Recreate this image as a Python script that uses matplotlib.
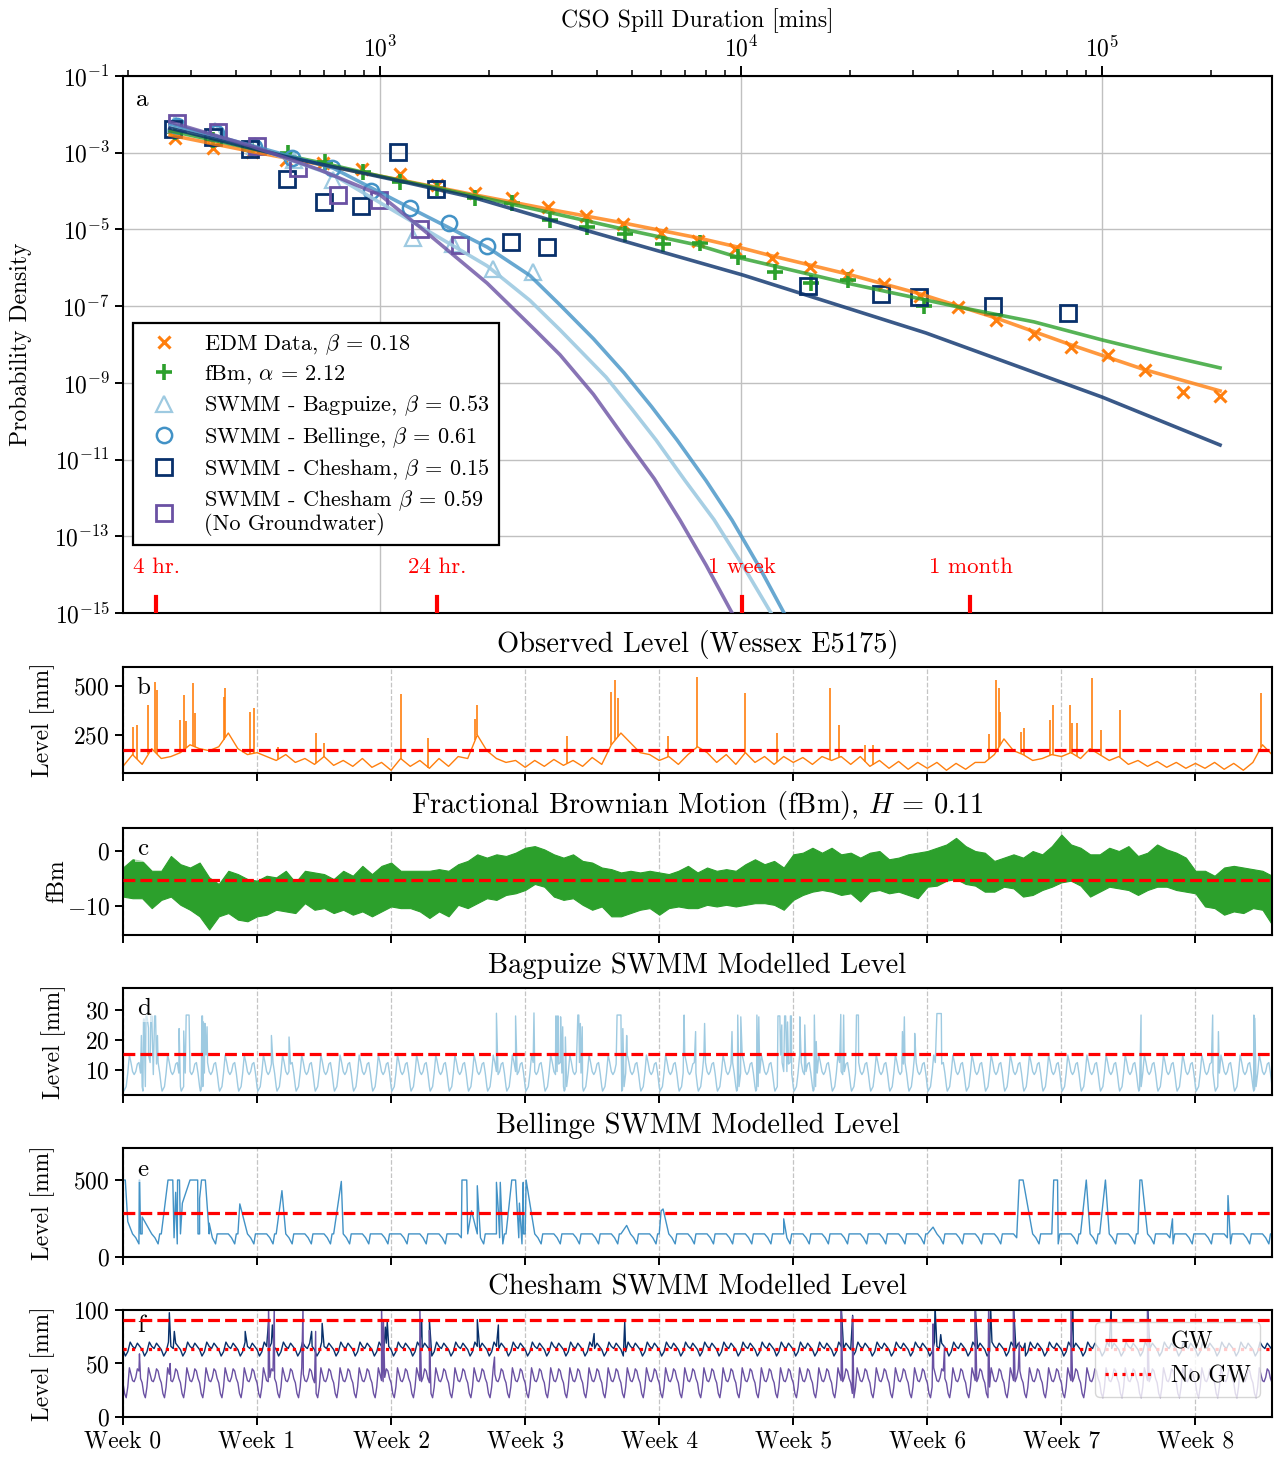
import numpy as np
import matplotlib
matplotlib.use("Agg")
import matplotlib.pyplot as plt
import matplotlib.ticker as mticker
from matplotlib.transforms import blended_transform_factory

plt.rcParams.update({
    "font.family": "serif",
    "font.serif": ["cmr10"],
    "mathtext.fontset": "cm",
    "axes.formatter.use_mathtext": True,
    "axes.linewidth": 1.5,
    "xtick.major.width": 1.4,
    "ytick.major.width": 1.4,
    "xtick.major.size": 6,
    "ytick.major.size": 6,
    "xtick.labelsize": 17,
    "ytick.labelsize": 17,
})

# ---------------------------------------------------------------------------
# Panel a: spill duration distributions (x in minutes, y as log10 density)
# ---------------------------------------------------------------------------
edm_mins = [270, 345, 442, 549, 695, 892, 1136, 1439, 1834, 2321, 2920, 3721, 4711,
            6003, 7600, 9625, 12185, 15530, 19660, 24890, 31320, 39920, 50870,
            64800, 82060, 103900, 131550, 167660, 212300]
edm_logp = [-2.62, -2.89, -2.98, -3.19, -3.28, -3.43, -3.56, -3.84, -4.06, -4.19, -4.41,
            -4.65, -4.86, -5.09, -5.30, -5.50, -5.75, -5.97, -6.19, -6.42, -6.74, -7.01,
            -7.36, -7.73, -8.06, -8.27, -8.66, -9.23, -9.34]

fbm_mins = [270, 345, 442, 556, 704, 897, 1136, 1439, 1834, 2321, 2957, 3745, 4772,
            6080, 7697, 9810, 12425, 15630, 19790, 32130]
fbm_logp = [-2.46, -2.67, -2.93, -3.01, -3.24, -3.50, -3.76, -3.92, -4.18, -4.31, -4.75,
            -4.94, -5.12, -5.38, -5.35, -5.72, -6.11, -6.40, -6.32, -7.00]

bagpuize_mins = [270, 349, 450, 578, 741, 1234, 1593, 2056, 2653]
bagpuize_logp = [-2.25, -2.43, -2.83, -3.19, -3.71, -5.22, -5.38, -6.03, -6.11]

bellinge_mins = [274, 351, 448, 570, 735, 942, 1211, 1553, 1983]
bellinge_logp = [-2.30, -2.49, -2.85, -3.15, -3.41, -3.99, -4.45, -4.84, -5.43]

chesham_mins = [267, 345, 436, 553, 700, 886, 1122, 1430, 2307, 2901, 15330, 24430,
                31120, 49900, 80500]
chesham_logp = [-2.38, -2.59, -2.90, -3.69, -4.29, -4.39, -2.98, -3.94, -5.33, -5.46,
                -6.47, -6.68, -6.76, -6.99, -7.18]

nogw_mins = [274, 355, 455, 594, 766, 995, 1290, 1666]
nogw_logp = [-2.23, -2.45, -2.83, -3.41, -4.10, -4.23, -5.00, -5.41]

# fitted curves
edm_fit_mins = [262, 436, 695, 1136, 1834, 2920, 4711, 7600, 10000, 12185, 19660, 31320,
                50870, 82060, 131550, 212300]
edm_fit_logp = [-2.54, -2.96, -3.32, -3.71, -4.10, -4.47, -4.83, -5.22, -5.48, -5.69,
                -6.16, -6.68, -7.31, -8.01, -8.66, -9.21]
fbm_fit_mins = [262, 436, 695, 1000, 1834, 2920, 4711, 7600, 10000, 19660, 39920, 64800,
                100000, 144800, 212300]
fbm_fit_logp = [-2.43, -2.88, -3.27, -3.61, -4.13, -4.55, -4.99, -5.41, -5.75, -6.40,
                -7.02, -7.41, -7.88, -8.25, -8.61]
chesham_fit_mins = [262, 553, 1136, 1834, 3152, 10128, 32540, 100000, 212300]
chesham_fit_logp = [-2.36, -3.11, -3.74, -4.18, -4.83, -6.19, -7.70, -9.37, -10.62]
nogw_fit_mins = [262, 445, 682, 1000, 1290, 1979, 2687, 3152, 3900, 4802, 5750, 6776,
                 8000, 9443]
nogw_fit_logp = [-2.20, -2.84, -3.45, -4.10, -4.94, -6.40, -7.62, -8.27, -9.30, -10.49,
                 -11.50, -12.58, -13.75, -15.0]
bellinge_fit_mins = [262, 436, 741, 1211, 1979, 2600, 3152, 3900, 4742, 5650, 6648,
                     8000, 9443, 11200, 13155]
bellinge_fit_logp = [-2.25, -2.80, -3.40, -4.44, -5.46, -6.20, -6.97, -7.85, -8.74,
                     -9.62, -10.49, -11.55, -12.58, -13.78, -15.0]
bagpuize_fit_mins = [262, 436, 741, 1234, 1979, 2600, 3152, 4227, 5000, 5815, 7000,
                     8420, 10100, 12110]
bagpuize_fit_logp = [-2.30, -2.82, -3.58, -4.81, -5.95, -6.85, -7.62, -8.85, -9.70,
                     -10.49, -11.55, -12.57, -13.75, -15.0]

duration_marks_mins = [240, 1440, 10080, 43200]
duration_marks_labels = ["4 hr.", "24 hr.", "1 week", "1 month"]

# ---------------------------------------------------------------------------
# Time-series panels (x in days)
# ---------------------------------------------------------------------------
week_ticks = [0, 7, 14, 21, 28, 35, 42, 49, 56]
week_labels = [f"Week {i}" for i in range(9)]

# b: observed level, half-day baseline + storm spikes
obs_base = [90, 150, 100, 180, 130, 140, 160, 200, 180, 170, 190, 260, 180, 150,
            160, 140, 120, 150, 110, 130, 100, 140, 95, 120, 90, 130, 85, 110,
            70, 130, 90, 120, 80, 130, 90, 140, 130, 250, 170, 130, 110, 120,
            85, 120, 90, 125, 95, 120, 90, 135, 100, 200, 260, 210, 160, 150,
            120, 140, 100, 150, 190, 160, 110, 150, 100, 160, 110, 140, 100, 140,
            110, 135, 100, 140, 120, 140, 100, 140, 90, 120, 80, 115, 75, 110,
            80, 110, 70, 105, 75, 110, 110, 150, 230, 170, 150, 120, 130, 150,
            140, 160, 130, 180, 150, 120, 140, 100, 120, 90, 115, 85, 110, 80,
            105, 80, 110, 75, 105, 70, 110, 200, 150]
obs_spike_day = [0.54, 0.71, 1.33, 1.67, 1.78, 3.0, 3.17, 3.3, 3.64, 3.75, 5.25, 5.31,
                 6.64, 6.85, 8.1, 10.1, 10.5, 14.5, 15.95, 18.4, 18.5, 23.2, 25.5,
                 25.7, 25.85, 28.45, 29.99, 32.5, 34.16, 36.9, 37.4, 38.77, 39.15,
                 45.2, 45.6, 45.73, 45.8, 46.9, 47.05, 48.4, 48.55, 49.47, 49.58,
                 49.8, 50.6, 51.08, 52.04, 59.43]
obs_spike_peak = [292, 301, 403, 522, 480, 326, 454, 320, 513, 360, 445, 488,
                  369, 386, 190, 258, 207, 459, 233, 330, 403, 245, 471,
                  530, 437, 245, 547, 462, 258, 488, 301, 199, 199,
                  253, 530, 488, 369, 267, 284, 326, 403, 403, 310,
                  310, 539, 276, 378, 462]
obs_threshold = 172

# c: fBm envelope (upper / lower) every half day
fbm_upper = [-3.0, -1.5, -1.8, -3.6, -3.6, -0.9, -2.4, -3.0, -2.1, -4.8, -6.0, -3.6, -4.2, -5.1,
             -5.4, -4.5, -4.8, -3.6, -5.7, -3.6, -3.9, -4.2, -5.1, -3.6, -4.5, -2.7, -4.2, -2.7,
             -2.1, -3.6, -3.6, -3.6, -3.6, -3.3, -3.6, -2.4, -1.8, -0.6, -1.2, -0.6, -0.9, -0.3,
             0.6, 0.9, 0.3, -0.6, -1.2, -0.6, -1.8, -2.1, -3.0, -3.3, -3.9, -3.6, -3.9, -3.6,
             -3.9, -4.2, -3.6, -2.7, -3.9, -3.0, -3.6, -3.3, -3.6, -2.4, -1.5, -2.4, -1.8, -3.0,
             -0.6, -0.3, 0.6, -0.3, 0.6, -0.6, -0.3, -1.2, -0.3, 0.0, -1.5, -1.2, -0.6, -0.3,
             0.0, 0.6, 1.2, 2.4, 0.9, 0.0, -0.3, -1.8, -1.2, -0.6, -1.2, 0.0, -0.6, 0.9,
             3.0, 1.2, 0.6, -0.6, -0.6, 0.6, 0.0, 0.9, -0.9, -0.3, 1.2, 0.3, -0.3, -1.2,
             -3.6, -3.6, -4.5, -3.0, -2.7, -3.0, -3.3, -3.6, -4.5]
fbm_lower = [-8.3, -8.6, -8.6, -10.4, -8.9, -8.3, -9.8, -10.7, -11.9, -14.3, -11.9, -11.3, -12.5, -12.8,
             -11.9, -11.6, -10.7, -11.0, -11.3, -9.5, -10.7, -10.4, -11.3, -10.7, -11.6, -11.0, -11.9, -11.0,
             -10.1, -10.4, -10.4, -11.0, -12.2, -11.0, -11.9, -9.8, -10.4, -9.5, -8.6, -8.9, -8.0, -7.7,
             -7.1, -6.0, -6.5, -8.3, -8.9, -8.6, -9.8, -10.7, -10.1, -11.9, -11.9, -11.3, -10.7, -10.4,
             -11.6, -10.4, -10.1, -10.4, -10.4, -9.8, -10.1, -9.8, -10.1, -9.8, -9.5, -9.5, -9.8, -10.7,
             -8.9, -8.0, -7.4, -7.1, -7.4, -8.0, -7.7, -9.2, -7.4, -7.1, -7.7, -7.4, -8.0, -8.6,
             -6.5, -6.3, -5.4, -5.1, -6.0, -6.3, -7.4, -7.4, -6.5, -6.8, -8.3, -8.0, -7.1, -6.5,
             -5.7, -5.4, -6.3, -8.3, -7.4, -6.5, -6.8, -7.1, -8.0, -7.1, -6.5, -6.5, -7.1, -7.4,
             -7.7, -10.1, -10.4, -11.6, -11.0, -11.3, -10.4, -10.7, -13.4]
fbm_threshold = -5.35

# d: Bagpuize, typical day + storm events
bag_hours = [0, 1, 2, 4, 6, 8, 10, 12, 14, 16, 18, 20, 22]
bag_day = [4.5, 3.0, 3.5, 4.5, 9.0, 15.0, 12.5, 9.5, 8.5, 9.5, 12.0, 12.5, 9.0]
bag_ev_start = [0.96, 1.07, 1.2, 1.33, 1.45, 1.65, 1.8, 2.93, 3.17, 3.3, 4.12, 4.2, 4.28, 4.39,
                7.75, 8.67, 19.5, 20.5, 21.46, 22.6, 22.7, 22.85, 22.96, 23.1, 23.75, 23.88,
                23.98, 25.8, 26.1, 26.3, 29.3, 29.9, 30.37, 31.8, 32.1, 32.26, 33.1, 33.2,
                34.2, 34.4, 34.55, 34.7, 34.85, 35.34, 35.6, 36.1, 36.2, 37.48, 37.63, 38.3,
                40.7, 40.8, 41.34, 42.5, 53.16, 56.9, 57.2, 59.05, 59.1]
bag_ev_end = [0.96, 1.1, 1.25, 1.33, 1.5, 1.7, 1.8, 2.93, 3.17, 3.45, 4.15, 4.2, 4.28, 4.39,
              7.75, 8.67, 19.5, 20.5, 21.46, 22.62, 22.72, 22.85, 22.96, 23.1, 23.8, 23.88,
              23.98, 26.0, 26.1, 26.3, 29.3, 29.9, 30.37, 31.8, 32.1, 32.26, 33.1, 33.2,
              34.3, 34.4, 34.6, 34.7, 34.9, 35.34, 35.6, 36.1, 36.2, 37.48, 37.63, 38.4,
              40.7, 40.8, 41.34, 42.73, 53.16, 56.9, 57.2, 59.05, 59.1]
bag_ev_peak = [21.5, 27, 28, 24, 28, 28, 21.5, 23.8, 23, 28.3, 28, 26, 25.5, 24.4,
               21.5, 21, 28.9, 28, 29, 28, 28, 27.7, 24.4, 21, 28.3, 25.5,
               24.4, 28.3, 23.8, 21.5, 28.3, 22.8, 25.5, 22.8, 28.3, 27.7, 28.3, 27.7,
               28, 25, 28, 26, 28, 27.7, 25, 28.3, 19.5, 28.5, 28.3, 28.3,
               22.8, 27.7, 22.2, 28.8, 28.3, 28.3, 22.8, 28.3, 27.2]
bag_threshold = 15.2

# e: Bellinge
bel_hours = [0, 12, 16, 20, 22]
bel_day = [150, 150, 125, 85, 150]
bel_ev_start = [0.0, 0.25, 0.85, 1.0, 2.35, 2.75, 2.85, 3.1, 3.5, 4.0, 4.1, 4.5, 6.1, 8.3,
                11.4, 17.7, 18.2, 18.5, 19.5, 19.6, 19.7, 20.3, 20.7, 20.9, 21.05, 26.3,
                28.1, 28.2, 34.5, 42.3, 46.8, 48.6, 50.3, 51.3, 53.1, 54.8, 57.7]
bel_ev_end = [0.12, 0.25, 0.87, 1.0, 2.6, 2.75, 2.95, 3.1, 3.9, 4.0, 4.3, 4.5, 6.1, 8.3,
              11.4, 17.95, 18.2, 18.5, 19.5, 19.6, 19.7, 20.5, 20.7, 20.9, 21.05, 26.3,
              28.1, 28.2, 34.5, 42.3, 47.0, 48.8, 50.3, 51.3, 53.2, 54.8, 57.7]
bel_ev_peak = [500, 230, 500, 260, 500, 420, 500, 350, 500, 380, 500, 220, 345, 431,
               491, 500, 300, 463, 485, 300, 485, 500, 350, 485, 500, 205,
               300, 312, 248, 194, 500, 500, 500, 500, 500, 248, 399]
bel_threshold = 286

# f: Chesham with / without groundwater
gw_hours = [0, 3, 6, 9, 12, 15, 18, 21]
gw_day = [63, 57, 61, 70, 66, 64, 69, 66]
gw_ev_day = [2.42, 2.68, 6.38, 7.6, 7.8, 9.85, 10.4, 13.7, 13.8, 15.6, 16.0, 18.5, 19.6,
             24.6, 26.2, 37.5, 38.1, 42.4, 42.7, 44.5, 45.3, 46.5, 47.1, 49.6, 51.6, 53.5]
gw_ev_peak = [97.5, 80, 80, 89, 86, 80, 87.5, 84, 89, 89, 91, 91, 86,
              78, 89, 105, 95, 105, 77, 105, 105, 105, 69, 105, 105, 105]
nogw_hours = [0, 2, 4, 6, 8, 10, 12, 14, 16, 18, 20, 22]
nogw_day = [32, 22, 18, 28, 46, 40, 34, 33, 37, 45, 43, 36]
nogw_ev_day = [0.86, 2.46, 7.6, 7.9, 9.4, 10.06, 13.5, 13.6, 15.5, 16.0, 19.4, 37.5, 38.1,
               42.3, 42.9, 44.5, 45.2, 46.5, 46.8, 49.5, 53.5]
nogw_ev_peak = [59, 50, 105, 105, 105, 80, 105, 90, 105, 81, 56, 105, 94,
                87, 66, 105, 105, 105, 70, 105, 105]
gw_threshold = 90.7
nogw_threshold = 63.5

N_DAYS = 60


def day_series(hours, values, ev_start, ev_end, ev_peak):
    """Repeat the typical day over the record and splice the storm events in."""
    t = (np.arange(N_DAYS + 1)[:, None] + np.asarray(hours)[None, :] / 24).ravel()
    v = np.tile(values, N_DAYS + 1).astype(float)
    keep = np.ones(t.size, bool)
    for s, e in zip(ev_start, ev_end):
        if e > s:
            keep &= ~((t >= s) & (t <= e))
    t = np.concatenate([t[keep], ev_start, ev_end])
    v = np.concatenate([v[keep], ev_peak, ev_peak])
    order = np.argsort(t, kind="stable")
    return t[order], v[order]


def label_panel(ax, letter, y=0.80):
    ax.text(0.012, y, letter, transform=ax.transAxes, fontsize=18, va="center",
            ha="left", bbox=dict(facecolor="white", alpha=0.6, edgecolor="none", pad=1))


def style_ts(ax, title, ylabel, ylim, yticks, label_x, show_labels=False):
    ax.set_xlim(0, N_DAYS)
    ax.set_ylim(*ylim)
    ax.set_yticks(yticks)
    ax.set_xticks(week_ticks)
    if show_labels:
        ax.set_xticklabels(week_labels)
    else:
        ax.set_xticklabels([])
    ax.grid(axis="x", linestyle="--", color="#c4c4c4", linewidth=0.9)
    ax.set_axisbelow(True)
    ax.set_title(title, fontsize=20.5, pad=11)
    ax.set_ylabel(ylabel, fontsize=17)
    ax.yaxis.set_label_coords(label_x, 0.5)


fig = plt.figure(figsize=(12.78, 14.58), dpi=100)

# --------------------------- panel a ---------------------------------------
ax = fig.add_axes([0.09624, 0.57956, 0.8991, 0.36831])
ax.set_xscale("log")
ax.set_yscale("log")

ax.plot(edm_fit_mins, 10 ** np.array(edm_fit_logp), color="#ff7f0e", lw=2.6, alpha=0.8, zorder=3)
ax.plot(fbm_fit_mins, 10 ** np.array(fbm_fit_logp), color="#2ca02c", lw=2.6, alpha=0.8, zorder=3)
ax.plot(bagpuize_fit_mins, 10 ** np.array(bagpuize_fit_logp), color="#9ecae1", lw=2.6, alpha=0.9, zorder=3)
ax.plot(bellinge_fit_mins, 10 ** np.array(bellinge_fit_logp), color="#4292c6", lw=2.6, alpha=0.8, zorder=3)
ax.plot(chesham_fit_mins, 10 ** np.array(chesham_fit_logp), color="#08306b", lw=2.6, alpha=0.8, zorder=3)
ax.plot(nogw_fit_mins, 10 ** np.array(nogw_fit_logp), color="#6a51a3", lw=2.6, alpha=0.8, zorder=3)

ax.plot(edm_mins, 10 ** np.array(edm_logp), ls="none", marker="x", ms=8, mew=2.2,
        color="#ff7f0e", label=r"EDM Data, $\beta$ = 0.18")
ax.plot(fbm_mins, 10 ** np.array(fbm_logp), ls="none", marker="+", ms=11, mew=2.6,
        color="#2ca02c", label=r"fBm, $\alpha$ = 2.12")
ax.plot(bagpuize_mins, 10 ** np.array(bagpuize_logp), ls="none", marker="^", ms=11, mew=1.6,
        mfc="none", mec="#9ecae1", label=r"SWMM - Bagpuize, $\beta$ = 0.53")
ax.plot(bellinge_mins, 10 ** np.array(bellinge_logp), ls="none", marker="o", ms=11, mew=1.8,
        mfc="none", mec="#4292c6", label=r"SWMM - Bellinge, $\beta$ = 0.61")
ax.plot(chesham_mins, 10 ** np.array(chesham_logp), ls="none", marker="s", ms=11.5, mew=2.0,
        mfc="none", mec="#08306b", label=r"SWMM - Chesham, $\beta$ = 0.15")
ax.plot(nogw_mins, 10 ** np.array(nogw_logp), ls="none", marker="s", ms=11.5, mew=2.0,
        mfc="none", mec="#6a51a3", label="SWMM - Chesham $\\beta$ = 0.59\n(No Groundwater)")

ax.set_xlim(194, 295800)
ax.set_ylim(1e-15, 1e-1)
ax.set_yticks([10.0 ** p for p in range(-15, 0, 2)])
ax.yaxis.set_minor_locator(mticker.NullLocator())
ax.xaxis.tick_top()
ax.xaxis.set_label_position("top")
ax.tick_params(axis="x", which="both", bottom=False, top=True, labelbottom=False, labeltop=True)
ax.tick_params(axis="x", which="major", length=7, width=1.4)
ax.tick_params(axis="x", which="minor", length=4, width=1.1)
ax.grid(True, which="major", color="#c0c0c0", linewidth=1.0)
ax.set_axisbelow(True)
ax.set_xlabel("CSO Spill Duration [mins]", fontsize=17, labelpad=6)
ax.set_ylabel("Probability Density", fontsize=17)
ax.yaxis.set_label_coords(-0.0796, 0.5)
ax.text(0.011, 0.955, "a", transform=ax.transAxes, fontsize=18, va="center", ha="left")

trans = blended_transform_factory(ax.transData, ax.transAxes)
for m, lab in zip(duration_marks_mins, duration_marks_labels):
    ax.axvline(m, ymin=0, ymax=0.03, color="red", lw=3, zorder=5)
    ax.text(m, 0.085, lab, transform=trans, color="red", fontsize=16.5, ha="center", va="center")

leg = ax.legend(loc="upper left", bbox_to_anchor=(0.0087, 0.54), fontsize=16,
                fancybox=False, framealpha=1, edgecolor="black", labelspacing=0.32,
                borderaxespad=0)
leg.get_frame().set_linewidth(1.6)
leg.get_texts()[-1].set_linespacing(1.0)

# --------------------------- panel b ---------------------------------------
axb = fig.add_axes([0.09624, 0.46982, 0.8991, 0.0727])
obs_days = np.arange(len(obs_base)) * 0.5
axb.plot(obs_days, obs_base, color="#ff7f0e", lw=1.0)
feet = np.interp(obs_spike_day, obs_days, obs_base)
axb.vlines(obs_spike_day, feet, obs_spike_peak, color="#ff7f0e", lw=1.2)
axb.axhline(obs_threshold, color="red", ls="--", lw=2.3, zorder=4)
style_ts(axb, "Observed Level (Wessex E5175)", "Level [mm]", (56, 597), [250, 500], -0.0596)
label_panel(axb, "b")

# --------------------------- panel c ---------------------------------------
axc = fig.add_axes([0.09624, 0.35871, 0.8991, 0.07339])
fbm_days = np.arange(len(fbm_upper)) * 0.5
axc.fill_between(fbm_days, fbm_lower, fbm_upper, color="#2ca02c", lw=0.8)
axc.axhline(fbm_threshold, color="red", ls="--", lw=2.3, zorder=4)
style_ts(axc, r"Fractional Brownian Motion (fBm), $H$ = 0.11", "fBm", (-15.3, 4.2), [-10, 0],
         -0.0475)
label_panel(axc, "c")

# --------------------------- panel d ---------------------------------------
axd = fig.add_axes([0.09624, 0.24897, 0.8991, 0.07339])
t, v = day_series(bag_hours, bag_day, bag_ev_start, bag_ev_end, bag_ev_peak)
axd.plot(t, v, color="#9ecae1", lw=1.0)
axd.axhline(bag_threshold, color="red", ls="--", lw=2.3, zorder=4)
style_ts(axd, "Bagpuize SWMM Modelled Level", "Level [mm]", (1.7, 37.3), [10, 20, 30], -0.0492)
label_panel(axd, "d")

# --------------------------- panel e ---------------------------------------
axe = fig.add_axes([0.09624, 0.13786, 0.8991, 0.07476])
t, v = day_series(bel_hours, bel_day, bel_ev_start, bel_ev_end, bel_ev_peak)
axe.plot(t, v, color="#4292c6", lw=1.0)
axe.axhline(bel_threshold, color="red", ls="--", lw=2.3, zorder=4)
style_ts(axe, "Bellinge SWMM Modelled Level", "Level [mm]", (0, 708), [0, 500], -0.0596)
label_panel(axe, "e")

# --------------------------- panel f ---------------------------------------
axf = fig.add_axes([0.09624, 0.02812, 0.8991, 0.07339])
t, v = day_series(gw_hours, gw_day, gw_ev_day, gw_ev_day, gw_ev_peak)
axf.plot(t, v, color="#08306b", lw=1.0)
t, v = day_series(nogw_hours, nogw_day, nogw_ev_day, nogw_ev_day, nogw_ev_peak)
axf.plot(t, v, color="#6a51a3", lw=1.0)
axf.axhline(gw_threshold, color="red", ls="--", lw=2.3, zorder=4, label="GW")
axf.axhline(nogw_threshold, color="red", ls=":", lw=2.3, zorder=4, label="No GW")
style_ts(axf, "Chesham SWMM Modelled Level", "Level [mm]", (0, 100), [0, 50, 100], -0.0596,
         show_labels=True)
label_panel(axf, "f", y=0.85)
axf.legend(loc="upper right", fontsize=17, framealpha=0.8)

fig.savefig("out.png", dpi=100)
